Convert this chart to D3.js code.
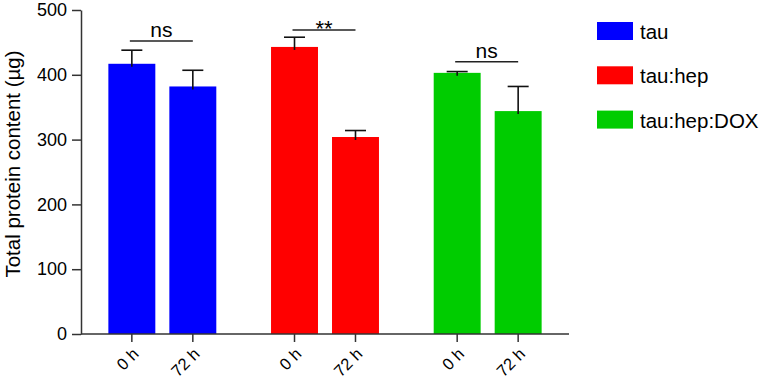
<!DOCTYPE html>
<html>
<head>
<meta charset="utf-8">
<script src="https://cdn.jsdelivr.net/npm/d3@7"></script>
<style>
  body { margin: 0; background: #fff; }
  svg { display: block; font-family: Arial, "Liberation Sans", sans-serif; }
</style>
</head>
<body>
<div id="chart"></div>
<script>
// data
const groups = ["tau", "tau:hep", "tau:hep:DOX"];
const times = ["0 h", "72 h"];
const means = [[417, 382], [443, 304], [403, 344]];
const errors = [[21, 25], [15, 10], [2, 38]];
const sigLabels = ["ns", "**", "ns"];
const sigLevels = [452, 469, 420];
const yTicks = [0, 100, 200, 300, 400, 500];
const colors = ["#0000ff", "#ff0000", "#00cc00"];

const width = 765, height = 381;
const plot = { left: 81, right: 569, top: 10, bottom: 334 };

const svg = d3.select("#chart")
    .append("svg")
    .attr("width", width)
    .attr("height", height);

const y = d3.scaleLinear()
    .domain([0, 500])
    .range([plot.bottom, plot.top]);

const xGroup = d3.scaleBand()
    .domain(groups)
    .range([plot.left, plot.right])
    .paddingInner(0.164)
    .paddingOuter(0.082);

const xTime = d3.scaleBand()
    .domain(times)
    .range([0, xGroup.bandwidth()])
    .padding(0.23);

const barX = (g, t) => xGroup(g) + xTime(t);
const barMid = (g, t) => barX(g, t) + xTime.bandwidth() / 2;

// flatten into one record per bar
const bars = [];
groups.forEach((g, i) => {
    times.forEach((t, j) => {
        bars.push({ group: g, time: t, value: means[i][j], err: errors[i][j], color: colors[i] });
    });
});

// bars
svg.append("g").selectAll("rect")
    .data(bars)
    .enter()
    .append("rect")
    .attr("x", d => barX(d.group, d.time))
    .attr("y", d => y(d.value))
    .attr("width", xTime.bandwidth())
    .attr("height", d => y(0) - y(d.value))
    .attr("fill", d => d.color);

// upper error bars
const capHalf = 10.5;
const errG = svg.append("g")
    .attr("stroke", "#111")
    .attr("stroke-width", 1.6);
bars.forEach(d => {
    const cx = barMid(d.group, d.time);
    errG.append("line")
        .attr("x1", cx).attr("x2", cx)
        .attr("y1", y(d.value) + 3).attr("y2", y(d.value + d.err));
    errG.append("line")
        .attr("x1", cx - capHalf).attr("x2", cx + capHalf)
        .attr("y1", y(d.value + d.err)).attr("y2", y(d.value + d.err));
});

// y axis
const yAxis = svg.append("g")
    .attr("transform", `translate(${plot.left}, 0)`)
    .call(d3.axisLeft(y).tickValues(yTicks).tickSize(9).tickPadding(5).tickSizeOuter(0));
yAxis.select(".domain").attr("stroke", "#333").attr("stroke-width", 1.5);
yAxis.selectAll(".tick line").attr("stroke", "#333").attr("stroke-width", 1.5);
yAxis.selectAll(".tick text")
    .attr("font-size", 18)
    .attr("fill", "#000")
    .attr("font-family", null);

// x axis with one tick per bar
const xAxisG = svg.append("g")
    .attr("transform", `translate(0, ${plot.bottom})`);
xAxisG.append("line")
    .attr("x1", plot.left).attr("x2", plot.right)
    .attr("stroke", "#333").attr("stroke-width", 1.5);
const xTicks = xAxisG.selectAll("g.xtick")
    .data(bars)
    .enter()
    .append("g")
    .attr("class", "xtick")
    .attr("transform", d => `translate(${barMid(d.group, d.time)}, 0)`);
xTicks.append("line")
    .attr("y2", 8)
    .attr("stroke", "#333").attr("stroke-width", 1.5);
xTicks.append("text")
    .text(d => d.time)
    .attr("text-anchor", "end")
    .attr("font-size", 16.5)
    .attr("transform", "translate(8, 21) rotate(-45)");

// y axis label
svg.append("text")
    .text("Total protein content (µg)")
    .attr("text-anchor", "middle")
    .attr("font-size", 20.5)
    .attr("transform", "translate(20, 164) rotate(-90)");

// significance brackets
const sig = svg.append("g");
groups.forEach((g, i) => {
    const x1 = barMid(g, times[0]) - 2;
    const x2 = barMid(g, times[1]);
    const ly = y(sigLevels[i]);
    sig.append("line")
        .attr("x1", x1).attr("x2", x2)
        .attr("y1", ly).attr("y2", ly)
        .attr("stroke", "#222").attr("stroke-width", 1.5);
    const isStar = sigLabels[i].includes("*");
    sig.append("text")
        .text(sigLabels[i])
        .attr("x", (x1 + x2) / 2)
        .attr("y", isStar ? ly + 6 : ly - 4)
        .attr("text-anchor", "middle")
        .attr("font-size", isStar ? 22 : 21);
});

// legend
const legend = svg.append("g")
    .attr("transform", "translate(597, 22)");
const items = legend.selectAll("g")
    .data(groups)
    .enter()
    .append("g")
    .attr("transform", (d, i) => `translate(0, ${i * 44.3})`);
items.append("rect")
    .attr("width", 36)
    .attr("height", 18)
    .attr("fill", (d, i) => colors[i]);
items.append("text")
    .text(d => d)
    .attr("x", 43)
    .attr("y", 17)
    .attr("font-size", 20.5);
</script>
</body>
</html>
